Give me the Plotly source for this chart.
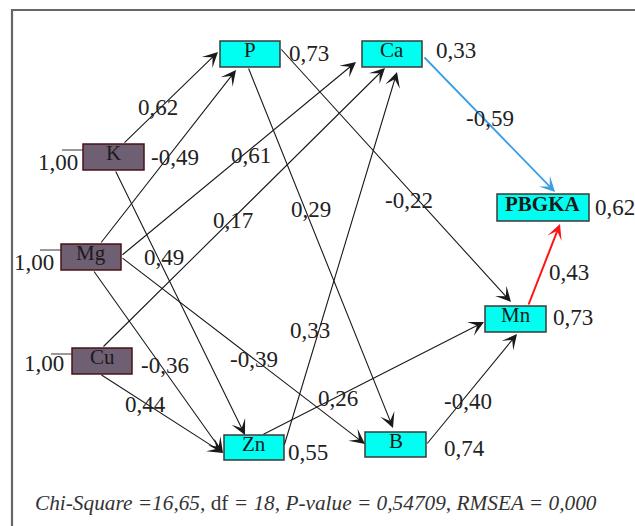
import plotly.graph_objects as go

# ---------------- data ----------------
exogenous = ["K", "Mg", "Cu"]
exogenous_variance = [1.00, 1.00, 1.00]
endogenous = ["P", "Ca", "Zn", "B", "Mn", "PBGKA"]
residual_values = [0.73, 0.33, 0.55, 0.74, 0.73, 0.62]
path_sources = ["K", "K", "Mg", "Mg", "Mg", "Mg", "Cu", "Cu", "P", "P", "Zn", "Zn", "B", "Ca", "Mn"]
path_targets = ["P", "Zn", "P", "Ca", "B", "Zn", "Ca", "Zn", "B", "Mn", "Ca", "Mn", "Mn", "PBGKA", "PBGKA"]
path_coefs = [0.62, 0.49, -0.49, 0.61, -0.39, -0.36, 0.17, 0.44, 0.29, -0.22, 0.33, 0.26, -0.40, -0.59, 0.43]
fit_text = ("<i>Chi-Square =16,65,</i> df <i>= 18, P-value = 0,54709, RMSEA = 0,000</i>")

# ---------------- layout (geometry / styles) ----------------
boxes = {
    "P": (220, 41, 280, 67), "Ca": (362, 41, 422, 67),
    "K": (83, 144, 144, 170), "Mg": (61, 244, 121, 270), "Cu": (72, 348, 132, 374),
    "Zn": (224, 435, 284, 460), "B": (365, 432, 426, 457),
    "Mn": (485, 306, 546, 332), "PBGKA": (497, 194, 589, 221),
}
edge_geom = {
    ("K", "P"): ((123, 144), (218, 52)),
    ("K", "Zn"): ((115, 170), (245, 435)),
    ("Mg", "P"): ((100, 244), (236, 70)),
    ("Mg", "Ca"): ((121, 256), (356, 62)),
    ("Mg", "B"): ((121, 257), (365, 444)),
    ("Mg", "Zn"): ((93, 270), (223, 453)),
    ("Cu", "Ca"): ((102, 348), (385, 68)),
    ("Cu", "Zn"): ((100, 374), (223, 453)),
    ("P", "B"): ((248, 67), (393, 428)),
    ("P", "Mn"): ((280, 48), (511, 302)),
    ("Zn", "Ca"): ((284, 446), (397, 72)),
    ("Zn", "Mn"): ((262, 435), (484, 322)),
    ("B", "Mn"): ((426, 445), (517, 334)),
    ("Ca", "PBGKA"): ((423, 56), (555, 192)),
    ("Mn", "PBGKA"): ((528, 306), (560, 224)),
}
edge_label_pos = {
    ("K", "P"): (136, 107), ("K", "Zn"): (142, 257), ("Mg", "P"): (149, 157),
    ("Mg", "Ca"): (229, 155), ("Mg", "B"): (228, 359), ("Mg", "Zn"): (139, 365),
    ("Cu", "Ca"): (211, 220), ("Cu", "Zn"): (123, 404), ("P", "B"): (289, 209),
    ("P", "Mn"): (383, 200), ("Zn", "Ca"): (288, 330), ("Zn", "Mn"): (316, 398),
    ("B", "Mn"): (442, 401), ("Ca", "PBGKA"): (464, 118), ("Mn", "PBGKA"): (547, 272),
}
edge_color = {("Ca", "PBGKA"): "#3A9FE6", ("Mn", "PBGKA"): "#FF1414"}
edge_width = {("Ca", "PBGKA"): 1.8, ("Mn", "PBGKA"): 2.0}
residual_pos = {"P": (287, 53), "Ca": (434, 50), "Zn": (286, 452), "B": (442, 448),
                "Mn": (551, 317), "PBGKA": (593, 207)}
variance_pos = {"K": (80, 162), "Mg": (56, 262), "Cu": (66, 363)}

FONT = "Liberation Serif"
NUM_SIZE = 23


def fmt(v):
    return f"{v:.2f}".replace(".", ",")


fig = go.Figure()
shapes = []
annotations = []

# frame
shapes.append(dict(type="rect", x0=12, y0=10, x1=660, y1=560, xref="x", yref="y",
                   line=dict(color="#666666", width=2.2), fillcolor="rgba(0,0,0,0)", layer="below"))

# edges
for s, t, c in zip(path_sources, path_targets, path_coefs):
    (ax, ay), (x, y) = edge_geom[(s, t)]
    col = edge_color.get((s, t), "#1a1a1a")
    w = edge_width.get((s, t), 1.1)
    annotations.append(dict(x=x, y=y, ax=ax, ay=ay, xref="x", yref="y", axref="x", ayref="y",
                            text="", showarrow=True, arrowhead=3, arrowsize=2.3 * 1.1 / w,
                            arrowwidth=w, arrowcolor=col, standoff=0, startstandoff=0))
    lx, ly = edge_label_pos[(s, t)]
    annotations.append(dict(x=lx, y=ly, xref="x", yref="y", text=fmt(c), showarrow=False,
                            xanchor="left", yanchor="middle",
                            font=dict(family=FONT, size=NUM_SIZE, color="#222222")))

# boxes
for name, (x0, y0, x1, y1) in boxes.items():
    exo = name in exogenous
    shapes.append(dict(type="rect", x0=x0, y0=y0, x1=x1, y1=y1, xref="x", yref="y",
                       fillcolor="#6F5F73" if exo else "#00FFF0",
                       line=dict(color="#4A1216" if exo else "#3a3a3a", width=1.5)))
    label = f"<b>{name}</b>" if name == "PBGKA" else name
    annotations.append(dict(x=(x0 + x1) / 2, y=(y0 + y1) / 2 - 4, xref="x", yref="y",
                            text=label, showarrow=False, xanchor="center", yanchor="middle",
                            font=dict(family=FONT, size=21, color="#1a1a1a")))

# exogenous variances
for name, v in zip(exogenous, exogenous_variance):
    x0, y0, x1, y1 = boxes[name]
    rx, ry = variance_pos[name]
    annotations.append(dict(x=rx, y=ry, xref="x", yref="y", text=fmt(v), showarrow=False,
                            xanchor="right", yanchor="middle",
                            font=dict(family=FONT, size=NUM_SIZE, color="#222222")))
    shapes.append(dict(type="line", x0=x0 - 21, x1=x0, y0=y0 + 6, y1=y0 + 6, xref="x", yref="y",
                       line=dict(color="#333333", width=1)))

# residuals
for name, v in zip(endogenous, residual_values):
    rx, ry = residual_pos[name]
    annotations.append(dict(x=rx, y=ry, xref="x", yref="y", text=fmt(v), showarrow=False,
                            xanchor="left", yanchor="middle",
                            font=dict(family=FONT, size=NUM_SIZE, color="#222222")))

# fit statistics
annotations.append(dict(x=33, y=503, xref="x", yref="y", text=fit_text, showarrow=False,
                        xanchor="left", yanchor="middle",
                        font=dict(family=FONT, size=21.3, color="#333333")))

fig.update_layout(
    width=635, height=526, margin=dict(l=0, r=0, t=0, b=0),
    paper_bgcolor="white", plot_bgcolor="white",
    xaxis=dict(range=[0, 635], visible=False, fixedrange=True),
    yaxis=dict(range=[526, 0], visible=False, fixedrange=True),
    shapes=shapes, annotations=annotations, showlegend=False,
)
fig.write_html("out.html", config={"displayModeBar": False},
               post_script="document.body.style.margin='0';document.body.style.overflow='hidden';")
